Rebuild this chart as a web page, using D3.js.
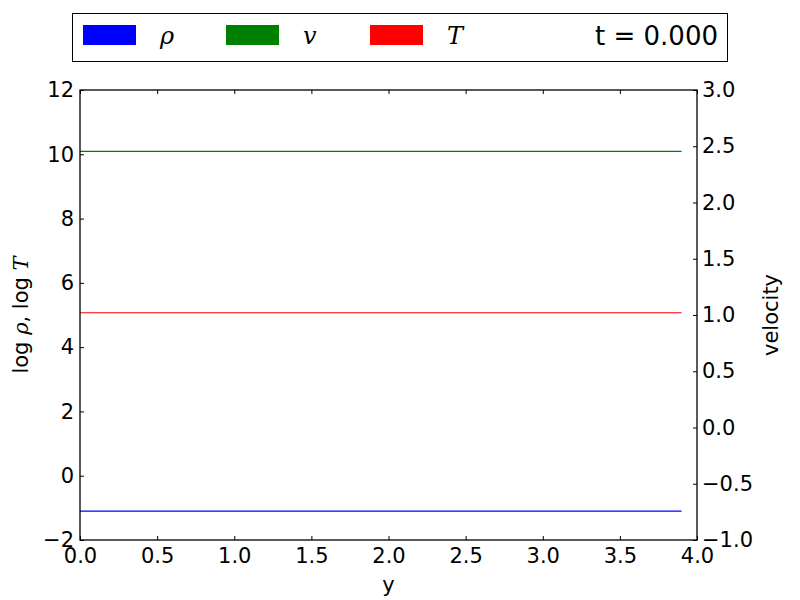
<!DOCTYPE html>
<html><head><meta charset="utf-8">
<script src="https://cdn.jsdelivr.net/npm/d3@7"></script>
<style>body{margin:0;background:#fff}svg{display:block}</style>
</head><body>
<script>
const yPositions = [0.0, 0.5, 1.0, 1.5, 2.0, 2.5, 3.0, 3.5, 3.9];
const logRho = [-1.1, -1.1, -1.1, -1.1, -1.1, -1.1, -1.1, -1.1, -1.1];
const velocity = [2.455, 2.455, 2.455, 2.455, 2.455, 2.455, 2.455, 2.455, 2.455];
const logT = [5.07, 5.07, 5.07, 5.07, 5.07, 5.07, 5.07, 5.07, 5.07];
const xTicks = [0, 0.5, 1.0, 1.5, 2.0, 2.5, 3.0, 3.5, 4.0];
const leftTicks = [-2, 0, 2, 4, 6, 8, 10, 12];
const rightTicks = [-1.0, -0.5, 0.0, 0.5, 1.0, 1.5, 2.0, 2.5, 3.0];
const legendLabels = ["ρ", "v", "T"];
const legendColors = ["#0000ff", "#008000", "#ff0000"];
const timeLabel = "t = 0.000";

const W = 800, H = 600;
const L = 80, R = 697, T = 90, B = 540;
const svg = d3.select("body").append("svg").attr("width", W).attr("height", H);
const font = "'DejaVu Sans', sans-serif";
const minus = s => String(s).replace("-", "\u2212");

const x = d3.scaleLinear().domain([0, 4]).range([L, R]);
const yL = d3.scaleLinear().domain([-2, 12]).range([B, T]);
const yR = d3.scaleLinear().domain([-1, 3]).range([B, T]);

// lines
const series = [
  {vals: logRho, scale: yL, color: legendColors[0]},
  {vals: velocity, scale: yR, color: legendColors[1]},
  {vals: logT, scale: yL, color: legendColors[2]}
];
series.forEach(s => {
  const line = d3.line().x((d, i) => x(yPositions[i])).y(d => s.scale(d));
  svg.append("path").datum(s.vals).attr("d", line)
    .attr("fill", "none").attr("stroke", s.color).attr("stroke-width", 1.2);
});

// axes (ticks inward)
function styleAxis(g) {
  g.select(".domain").remove();
  g.selectAll("line").attr("stroke", "#000").attr("stroke-width", 1);
  g.selectAll("text").attr("font-family", font).attr("font-size", 21).attr("fill", "#000");
}
const fmt1 = d => minus(d.toFixed(1));
svg.append("g").attr("transform", `translate(0,${B})`)
  .call(d3.axisBottom(x).tickValues(xTicks).tickFormat(fmt1).tickSizeInner(-4).tickSizeOuter(0).tickPadding(8))
  .call(styleAxis);
svg.append("g").attr("transform", `translate(0,${T})`)
  .call(d3.axisTop(x).tickValues(xTicks).tickFormat("").tickSizeInner(-4).tickSizeOuter(0))
  .call(styleAxis);
svg.append("g").attr("transform", `translate(${L},0)`)
  .call(d3.axisLeft(yL).tickValues(leftTicks).tickFormat(d => minus(d)).tickSizeInner(-4).tickSizeOuter(0).tickPadding(6))
  .call(styleAxis);
svg.append("g").attr("transform", `translate(${R},0)`)
  .call(d3.axisRight(yR).tickValues(rightTicks).tickFormat(fmt1).tickSizeInner(-4).tickSizeOuter(0).tickPadding(5))
  .call(styleAxis);

// frame
svg.append("rect").attr("x", L).attr("y", T).attr("width", R - L).attr("height", B - T)
  .attr("fill", "none").attr("stroke", "#000").attr("stroke-width", 1.3);

// axis labels
svg.append("text").attr("x", (L + R) / 2).attr("y", 592).attr("text-anchor", "middle")
  .attr("font-family", font).attr("font-size", 21).text("y");
svg.append("text").attr("transform", `translate(${778},${315}) rotate(-90)`).attr("text-anchor", "middle")
  .attr("font-family", font).attr("font-size", 21).text("velocity");
const yl = svg.append("text").attr("transform", `translate(${28},${315}) rotate(-90)`).attr("text-anchor", "middle")
  .attr("font-family", font).attr("font-size", 21);
yl.append("tspan").text("log ");
yl.append("tspan").attr("font-family", "'DejaVu Serif', serif").attr("font-style", "italic").text("ρ");
yl.append("tspan").text(", log ");
yl.append("tspan").attr("font-family", "'DejaVu Serif', serif").attr("font-style", "italic").text("T");

// legend
svg.append("rect").attr("x", 72.5).attr("y", 13.5).attr("width", 655).attr("height", 48)
  .attr("fill", "#fff").attr("stroke", "#000").attr("stroke-width", 1);
const patchX = [83, 226, 370];
legendLabels.forEach((lab, i) => {
  svg.append("rect").attr("x", patchX[i]).attr("y", 25).attr("width", 53).attr("height", 20)
    .attr("fill", legendColors[i]);
  svg.append("text").attr("x", patchX[i] + 77).attr("y", 44)
    .attr("font-family", "'DejaVu Serif', serif").attr("font-style", "italic")
    .attr("font-size", 24).text(lab);
});
svg.append("text").attr("x", 718).attr("y", 45).attr("text-anchor", "end")
  .attr("font-family", font).attr("font-size", 26).text(timeLabel);
</script>
</body></html>
